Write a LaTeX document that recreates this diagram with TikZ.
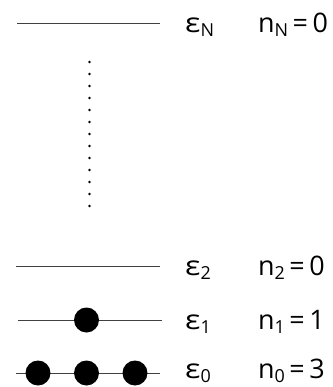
\documentclass[tikz,border=0pt]{standalone}
\usepackage{fontspec}
\setmainfont{Open Sans}
\tikzset{
  level/.style={line width=1bp,color=black!75},
  particle/.style={circle,fill=black,inner sep=0pt,minimum size=25bp},
  lbl/.style={anchor=base west,inner sep=0pt,font=\fontsize{27}{29}\selectfont},
}
\newcommand{\sbs}[1]{\raisebox{-0.15em}{\fontsize{18}{19}\selectfont #1}}

\begin{document}
\begin{tikzpicture}[x=1bp,y=1bp,yscale=-1]
\useasboundingbox (0,0) rectangle (333,387);

% Levels
\coordinate (LN) at (17,23.5);
\coordinate (RN) at (160,23.5);
\coordinate (L2) at (16,266);
\coordinate (R2) at (160,266);
\coordinate (L1) at (18,320);
\coordinate (R1) at (162,320);
\coordinate (L0) at (16,373);
\coordinate (R0) at (160,373);
\draw [level] (LN) -- (RN);
\draw [level] (L2) -- (R2);
\draw [level] (L1) -- (R1);
\draw [level] (L0) -- (R0);

% Vertical dots
\foreach \k in {0,...,12}
  \fill (89.5,62+12*\k) circle (1.3);

% Particles
\node [particle] (p1) at (86.5,320) {};
\foreach \x/\i in {38/a,86.5/b,135/c}
  \node [particle] (p0\i) at (\x,373) {};

% Text Node
\node [lbl] (eN) at (185,32.5) {\scalebox{1.2}[1]{ε}\sbs{N}};
\node [lbl] (nN) at (258,32.5) {n\sbs{N}\,=\,0};
% Text Node
\node [lbl] (e2) at (185,275) {\scalebox{1.2}[1]{ε}\sbs{2}};
\node [lbl] (n2) at (258,275) {n\sbs{2}\,=\,0};
% Text Node
\node [lbl] (e1) at (185,329) {\scalebox{1.2}[1]{ε}\sbs{1}};
\node [lbl] (n1) at (258,329) {n\sbs{1}\,=\,1};
% Text Node
\node [lbl] (e0) at (185,378.5) {\scalebox{1.2}[1]{ε}\sbs{0}};
\node [lbl] (n0) at (258,378.5) {n\sbs{0}\,=\,3};

\end{tikzpicture}
\end{document}
